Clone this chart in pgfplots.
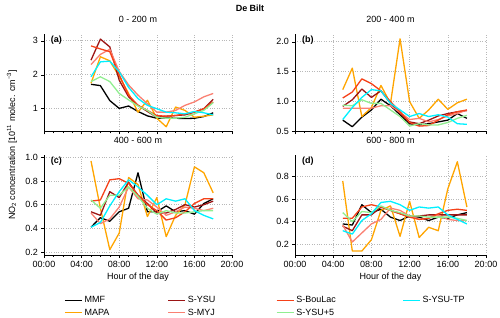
\documentclass[border=0pt]{standalone}
\usepackage{fontspec}
\setmainfont{Liberation Sans}
\usepackage{pgfplots}
\usepackage{pgfplotstable}
\pgfplotsset{compat=1.18}
\definecolor{cMMF}{RGB}{0,0,0}
\definecolor{cMAPA}{RGB}{255,165,0}
\definecolor{cYSU}{RGB}{155,20,20}
\definecolor{cMYJ}{RGB}{250,128,114}
\definecolor{cBL}{RGB}{245,65,25}
\definecolor{cY5}{RGB}{144,238,144}
\definecolor{cTP}{RGB}{0,240,255}

\pgfplotstableread{
h mmf mapa ysu myj bl ysu5 tp
5 1.72 1.75 2.43 2.30 2.85 1.80 1.94
6 1.68 2.53 3.05 2.60 2.76 1.94 2.38
7 1.24 2.41 2.82 2.75 2.68 1.80 2.40
8 1.01 1.95 1.84 2.10 2.00 1.45 2.09
9 1.08 1.45 1.35 1.70 1.40 1.26 1.63
10 0.92 0.90 1.10 1.40 1.10 1.08 1.30
11 0.79 1.25 0.92 1.15 0.95 0.95 1.10
12 0.72 0.72 0.75 0.90 0.80 0.75 1.00
13 0.73 0.47 0.78 0.90 0.78 0.72 0.90
14 0.72 1.05 0.80 0.95 0.80 0.72 0.88
15 0.71 0.95 0.82 1.10 0.85 0.75 0.85
16 0.72 0.75 0.90 1.20 0.90 0.85 0.92
17 0.77 0.78 1.00 1.35 1.00 0.95 0.88
18 0.88 0.82 1.28 1.45 1.20 1.18 0.82
}\tabA
\pgfplotstableread{
h mmf mapa ysu myj bl ysu5 tp
5 0.69 1.20 0.92 0.89 1.06 0.94 0.70
6 0.58 1.56 1.03 0.89 1.16 0.93 0.90
7 0.74 0.75 1.21 0.89 1.38 1.03 1.07
8 0.86 0.90 1.07 0.89 1.30 0.97 1.20
9 1.04 1.27 1.18 0.93 1.18 0.97 1.18
10 0.93 0.97 0.97 0.93 1.00 0.86 0.97
11 0.78 2.05 0.80 0.82 0.83 0.75 0.86
12 0.63 1.00 0.66 0.70 0.65 0.59 0.75
13 0.61 0.72 0.63 0.72 0.59 0.63 0.80
14 0.63 0.86 0.69 0.66 0.60 0.61 0.75
15 0.66 1.04 0.76 0.70 0.69 0.61 0.78
16 0.69 0.87 0.80 0.76 0.78 0.65 0.74
17 0.80 0.98 0.83 0.80 0.83 0.72 0.63
18 0.72 1.04 0.85 0.86 0.86 0.77 0.62
}\tabB
\pgfplotstableread{
h mmf mapa ysu myj bl ysu5 tp
5 0.41 0.97 0.54 0.53 0.63 0.64 0.41
6 0.49 0.57 0.51 0.44 0.64 0.57 0.45
7 0.46 0.22 0.71 0.48 0.81 0.68 0.59
8 0.54 0.36 0.66 0.58 0.82 0.68 0.71
9 0.57 0.83 0.79 0.75 0.78 0.75 0.81
10 0.87 0.77 0.68 0.65 0.68 0.67 0.75
11 0.54 0.50 0.61 0.64 0.60 0.57 0.68
12 0.54 0.66 0.53 0.58 0.55 0.52 0.60
13 0.59 0.33 0.53 0.51 0.47 0.55 0.65
14 0.54 0.51 0.56 0.54 0.49 0.53 0.63
15 0.55 0.60 0.60 0.58 0.54 0.53 0.65
16 0.52 0.92 0.58 0.57 0.61 0.54 0.55
17 0.61 0.87 0.60 0.55 0.65 0.55 0.51
18 0.65 0.70 0.63 0.57 0.65 0.55 0.48
}\tabC
\pgfplotstableread{
h mmf mapa ysu myj bl ysu5 tp
5 0.38 0.76 0.36 0.37 0.43 0.48 0.32
6 0.37 0.14 0.32 0.22 0.43 0.40 0.29
7 0.55 0.14 0.46 0.30 0.53 0.49 0.41
8 0.48 0.24 0.46 0.38 0.55 0.48 0.47
9 0.51 0.50 0.53 0.42 0.53 0.54 0.57
10 0.44 0.54 0.50 0.52 0.50 0.50 0.58
11 0.41 0.27 0.47 0.50 0.47 0.48 0.55
12 0.45 0.58 0.44 0.45 0.44 0.45 0.50
13 0.44 0.26 0.45 0.42 0.42 0.45 0.53
14 0.41 0.35 0.46 0.43 0.43 0.44 0.52
15 0.44 0.32 0.46 0.46 0.47 0.44 0.53
16 0.43 0.69 0.46 0.42 0.50 0.44 0.46
17 0.46 0.93 0.46 0.41 0.51 0.43 0.42
18 0.48 0.53 0.46 0.41 0.50 0.41 0.38
}\tabD

\newcommand{\fs}{\fontsize{9}{11}\selectfont}
\pgfplotsset{
  panel/.style={
    scale only axis,
    xmin=0, xmax=20,
    axis x line*=bottom, axis y line*=left,
    xtick={0,4,...,20},
    minor x tick num=3,
    grid=major,
    major grid style={dotted, black!28, line width=0.6pt},
    tick align=outside,
    major tick length=3pt, minor tick length=2pt,
    every tick/.style={black, line width=0.5pt},
    axis line style={black, line width=0.6pt},
    tick label style={font=\fs},
    /pgf/number format/assume math mode=true,
    every axis plot/.append style={line width=1.3pt, no markers, line join=round},
    title style={font=\fs, at={(axis description cs:0.5,1)}, anchor=center, yshift=9pt},
    xlabel style={font=\fs, at={(axis description cs:0.5,0)}, anchor=center, yshift=-22pt},
  },
  toprow/.style={xticklabels={}},
  botrow/.style={xticklabels={00:00,04:00,08:00,12:00,16:00,20:00}, xlabel={Hour of the day}},
  onedec/.style={yticklabel style={/pgf/number format/.cd, fixed, fixed zerofill, precision=1}},
}
\newcommand{\allplots}[1]{%
  \addplot[cMMF, forget plot] table[x=h, y=mmf] {#1};
  \addplot[cMAPA, forget plot] table[x=h, y=mapa] {#1};
  \addplot[cYSU, forget plot] table[x=h, y=ysu] {#1};
  \addplot[cMYJ, forget plot] table[x=h, y=myj] {#1};
  \addplot[cBL, forget plot] table[x=h, y=bl] {#1};
  \addplot[cY5, forget plot] table[x=h, y=ysu5] {#1};
  \addplot[cTP, forget plot] table[x=h, y=tp] {#1};
}
\newcommand{\plabel}[1]{\node[anchor=west, font=\fs\bfseries] at (axis description cs:0.02,0.935) {#1};}

\begin{document}
\fs
\begin{tikzpicture}[x=1pt,y=1pt]
\path[use as bounding box] (0,0) rectangle (500,318);
\node[font=\fs\bfseries] at (250,310) {De Bilt};
\node[rotate=90, font=\fs] at (12,173) {NO\textsubscript{2} concentration [10\textsuperscript{11} molec. cm\textsuperscript{−3}]};

\begin{axis}[panel, toprow, at={(44pt,186.5pt)}, anchor=south west, width=188pt, height=97.5pt,
  ymin=0.33, ymax=3.2, ytick={1,2,3}, title={0 - 200 m}]
\allplots{\tabA}
\plabel{(a)}
\end{axis}

\begin{axis}[panel, toprow, onedec, at={(295pt,186.5pt)}, anchor=south west, width=191pt, height=97.5pt,
  ymin=0.5, ymax=2.13, ytick={0.5,1.0,1.5,2.0}, title={200 - 400 m}]
\allplots{\tabB}
\plabel{(b)}
\end{axis}

\begin{axis}[panel, botrow, onedec, at={(44pt,63pt)}, anchor=south west, width=188pt, height=100pt,
  ymin=0.175, ymax=1.02, ytick={0.2,0.4,0.6,0.8,1.0}, title={400 - 600 m},
  legend columns=4,
  legend cell align=left,
  legend style={at={(axis description cs:0.09,-0.375)}, anchor=north west, draw=none, fill=none, font=\fs,
    row sep=0.5pt, /tikz/every even column/.append style={column sep=0pt}},
  legend image code/.code={\draw[#1, line width=1.4pt] (0pt,0pt) -- (17pt,0pt);}]
\addlegendimage{cMMF}\addlegendentry{\makebox[81pt][l]{MMF}}
\addlegendimage{cYSU}\addlegendentry{\makebox[86pt][l]{S-YSU}}
\addlegendimage{cBL}\addlegendentry{\makebox[104pt][l]{S-BouLac}}
\addlegendimage{cTP}\addlegendentry{S-YSU-TP}
\addlegendimage{cMAPA}\addlegendentry{MAPA}
\addlegendimage{cMYJ}\addlegendentry{S-MYJ}
\addlegendimage{cY5}\addlegendentry{S-YSU+5}
\allplots{\tabC}
\plabel{(c)}
\end{axis}

\begin{axis}[panel, botrow, onedec, at={(295pt,63pt)}, anchor=south west, width=191pt, height=100pt,
  ymin=0.105, ymax=0.99, ytick={0.2,0.4,0.6,0.8}, title={600 - 800 m}]
\allplots{\tabD}
\plabel{(d)}
\end{axis}
\end{tikzpicture}
\end{document}
